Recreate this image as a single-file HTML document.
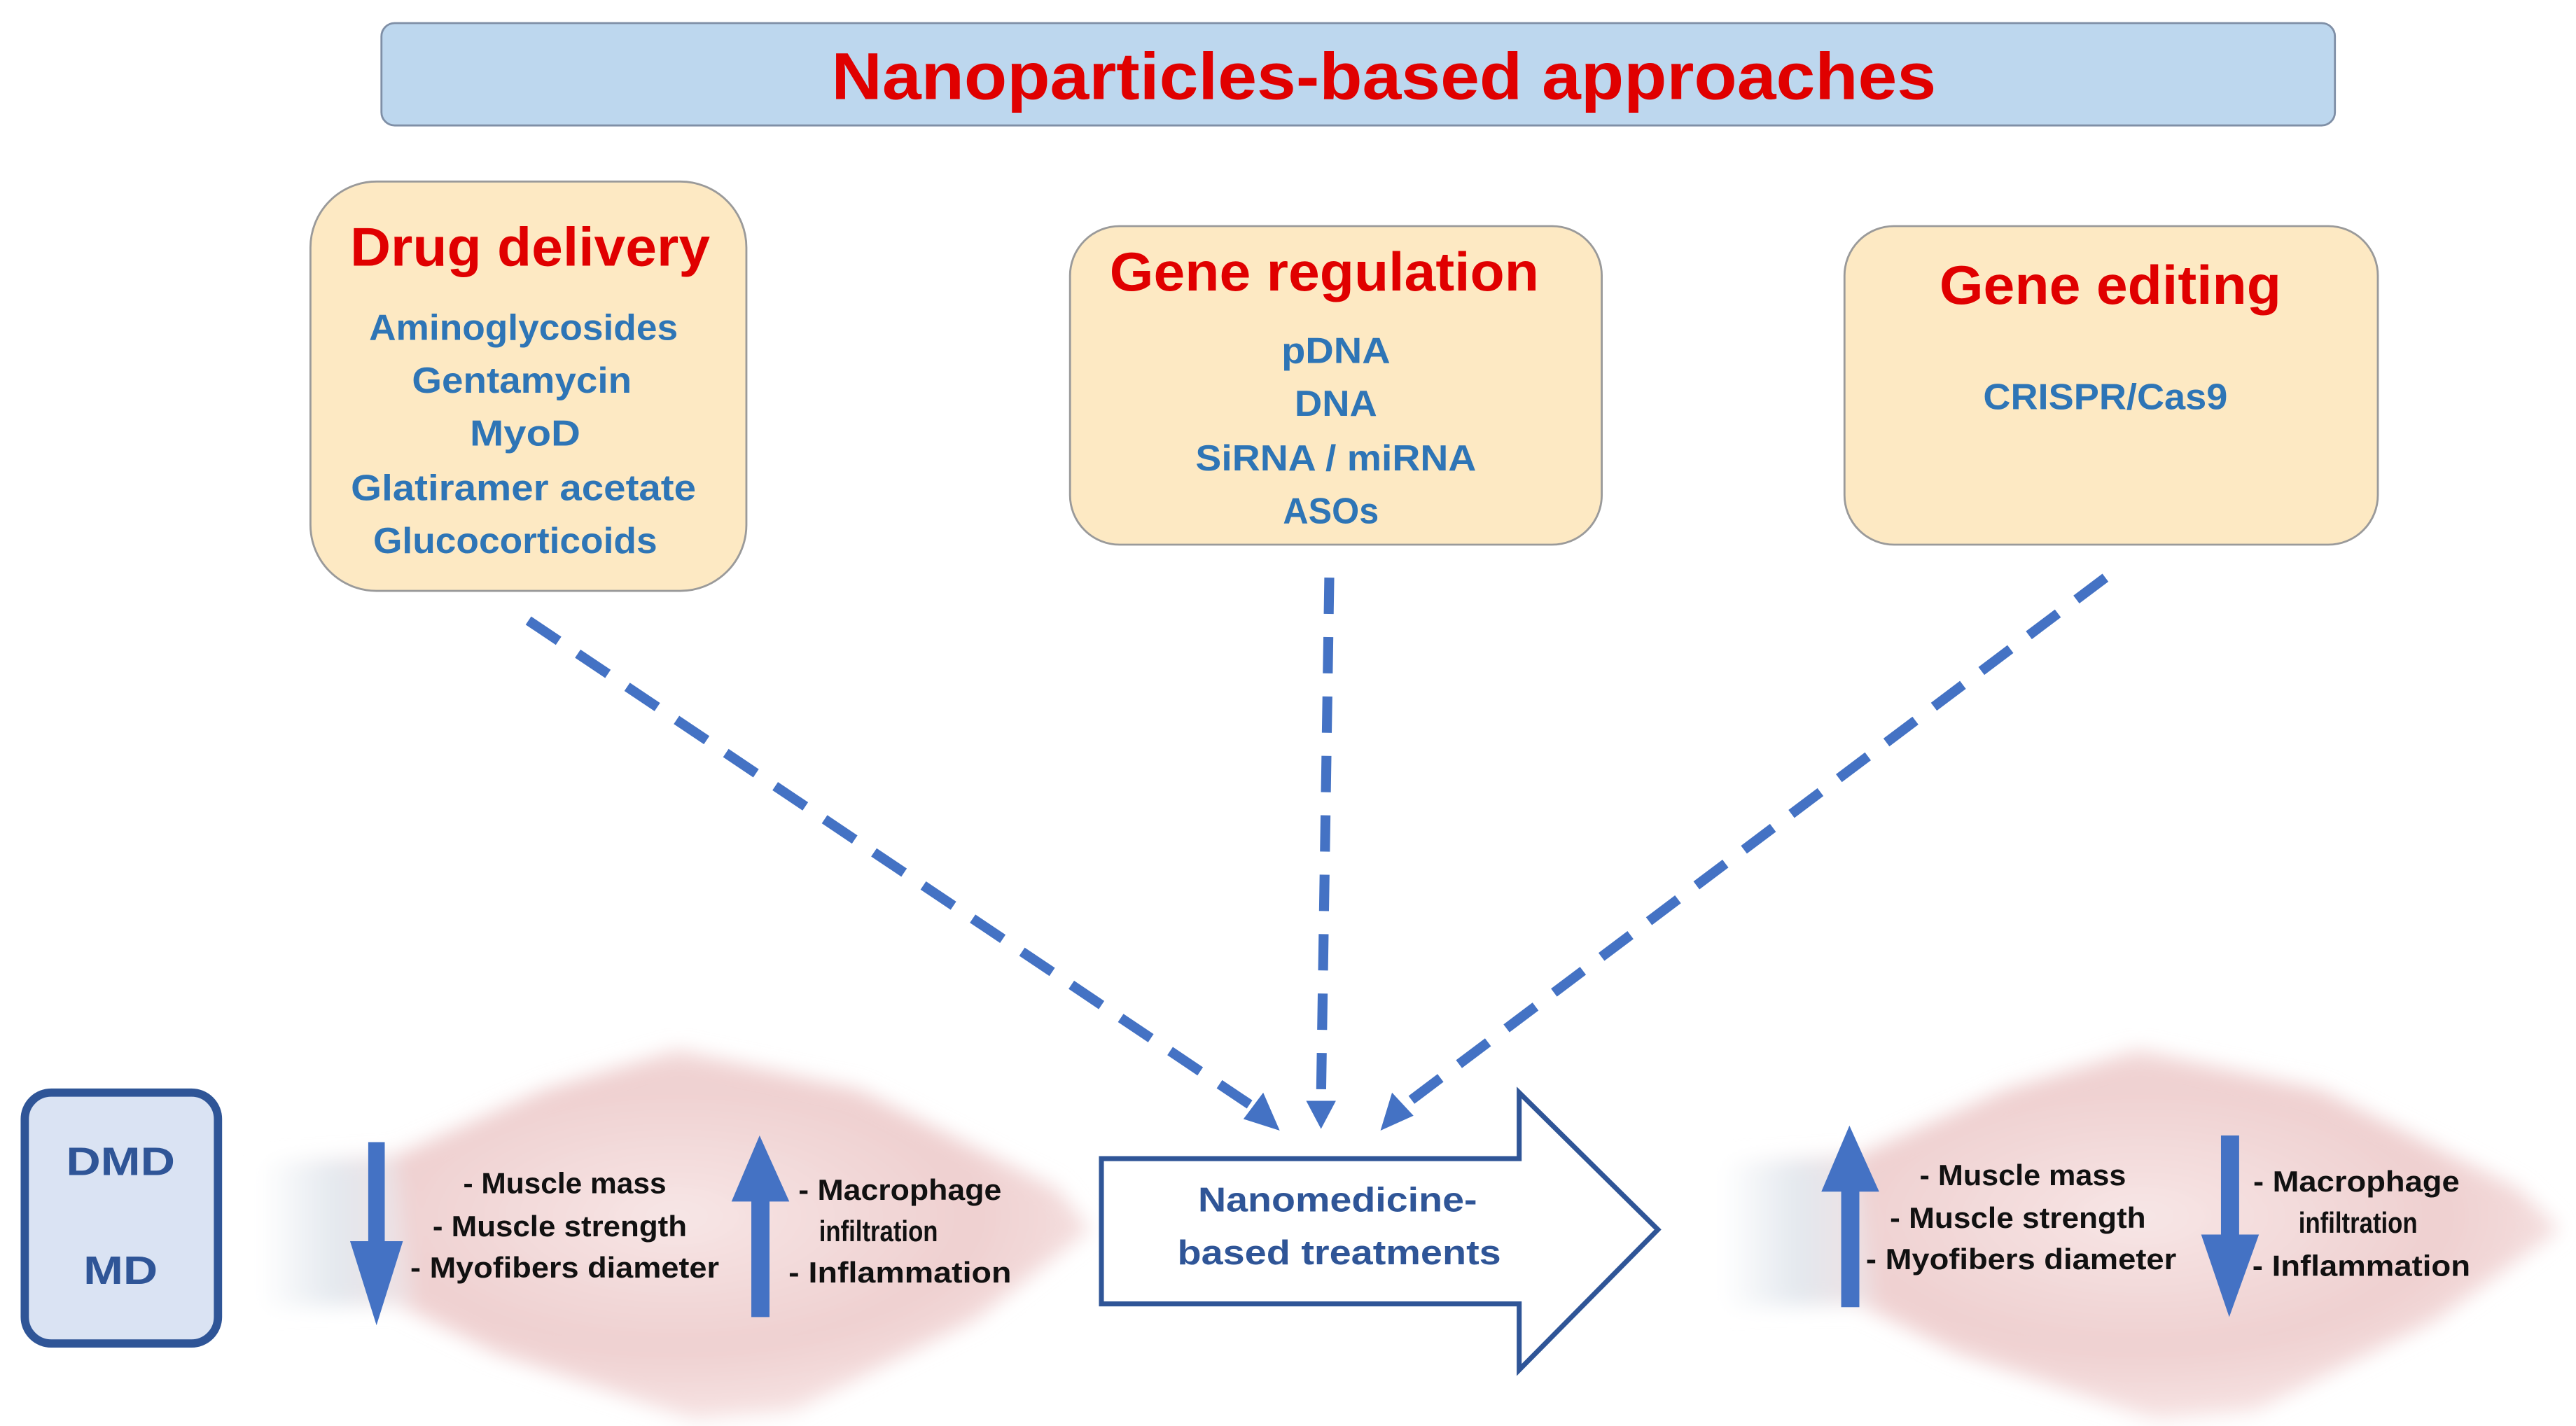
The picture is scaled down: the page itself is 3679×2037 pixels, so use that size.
<!DOCTYPE html>
<html><head><meta charset="utf-8"><style>
html,body{margin:0;padding:0;background:#fff;}
svg{display:block;}
text{font-family:"Liberation Sans",sans-serif;font-weight:bold;}
</style></head><body>
<svg width="3679" height="2037" viewBox="0 0 1560 864" preserveAspectRatio="none" xmlns="http://www.w3.org/2000/svg">
<defs>
<filter id="bl" x="-20%" y="-20%" width="140%" height="140%"><feGaussianBlur stdDeviation="6"/></filter>
<radialGradient id="mg" cx="0.5" cy="0.45" r="0.6">
<stop offset="0" stop-color="#f7e6e6"/><stop offset="0.6" stop-color="#efd0d0"/><stop offset="1" stop-color="#f8e8e8"/>
</radialGradient>
<linearGradient id="tg" x1="0" x2="1"><stop offset="0" stop-color="#ffffff"/><stop offset="0.5" stop-color="#e3e8ee"/><stop offset="1" stop-color="#efdfe1"/></linearGradient>
</defs>
<rect width="1560" height="864" fill="#fff"/>
<rect x="231" y="14" width="1183" height="62" rx="8" fill="#bdd7ee" stroke="#7f8fa6" stroke-width="1.2"/>
<text x="838" y="60" font-size="40" fill="#e00000" text-anchor="middle" textLength="669" lengthAdjust="spacingAndGlyphs">Nanoparticles-based approaches</text>
<rect x="188" y="110" width="264" height="248" rx="40" fill="#fde9c3" stroke="#9a9a9a" stroke-width="1.2"/>
<text x="321" y="161" font-size="33" fill="#e00000" text-anchor="middle" textLength="218" lengthAdjust="spacingAndGlyphs">Drug delivery</text>
<g font-size="22" fill="#2e75b6" text-anchor="middle">
<text x="317" y="206" textLength="187" lengthAdjust="spacingAndGlyphs">Aminoglycosides</text>
<text x="316" y="238" textLength="133" lengthAdjust="spacingAndGlyphs">Gentamycin</text>
<text x="318" y="270" textLength="67" lengthAdjust="spacingAndGlyphs">MyoD</text>
<text x="317" y="303" textLength="209" lengthAdjust="spacingAndGlyphs">Glatiramer acetate</text>
<text x="312" y="335" textLength="172" lengthAdjust="spacingAndGlyphs">Glucocorticoids</text>
</g>
<rect x="648" y="137" width="322" height="193" rx="30" fill="#fde9c3" stroke="#9a9a9a" stroke-width="1.2"/>
<text x="802" y="176" font-size="33" fill="#e00000" text-anchor="middle" textLength="260" lengthAdjust="spacingAndGlyphs">Gene regulation</text>
<g font-size="22" fill="#2e75b6" text-anchor="middle">
<text x="809" y="220" textLength="66" lengthAdjust="spacingAndGlyphs">pDNA</text>
<text x="809" y="252" textLength="50" lengthAdjust="spacingAndGlyphs">DNA</text>
<text x="809" y="285" textLength="170" lengthAdjust="spacingAndGlyphs">SiRNA / miRNA</text>
<text x="806" y="317" textLength="58" lengthAdjust="spacingAndGlyphs">ASOs</text>
</g>
<rect x="1117" y="137" width="323" height="193" rx="30" fill="#fde9c3" stroke="#9a9a9a" stroke-width="1.2"/>
<text x="1278" y="184" font-size="33" fill="#e00000" text-anchor="middle" textLength="207" lengthAdjust="spacingAndGlyphs">Gene editing</text>
<text x="1275" y="248" font-size="22" fill="#2e75b6" text-anchor="middle" textLength="148" lengthAdjust="spacingAndGlyphs">CRISPR/Cas9</text>
<g stroke="#4472c4" stroke-width="6" stroke-dasharray="22,14" fill="none">
<line x1="320" y1="376" x2="758" y2="670"/>
<line x1="805" y1="350" x2="800" y2="666"/>
<line x1="1275" y1="350" x2="850" y2="670"/>
</g>
<g fill="#4472c4">
<polygon points="775,685 753,678 765,662"/>
<polygon points="800,684 791,667 809,667"/>
<polygon points="836,685 843,662 856,676"/>
</g>
<g filter="url(#bl)">
<path d="M160,705 L240,700 L330,660 L410,636 L520,660 L640,720 L660,745 L590,800 L480,855 L420,860 L300,820 L240,790 L160,790 Z" fill="url(#mg)"/>
<path d="M158,705 L240,702 L250,790 L158,792 Z" fill="url(#tg)"/>
<path d="M1045,705 L1125,700 L1215,660 L1295,636 L1405,660 L1525,720 L1550,745 L1475,800 L1365,855 L1305,860 L1185,820 L1125,790 L1045,790 Z" fill="url(#mg)"/>
<path d="M1043,705 L1125,702 L1135,790 L1043,792 Z" fill="url(#tg)"/>
</g>
<rect x="15" y="662" width="117" height="152" rx="16" fill="#dae3f3" stroke="#2f5597" stroke-width="5"/>
<text x="73" y="712" font-size="24" fill="#2f5597" text-anchor="middle" textLength="66" lengthAdjust="spacingAndGlyphs">DMD</text>
<text x="73" y="778" font-size="24" fill="#2f5597" text-anchor="middle" textLength="45" lengthAdjust="spacingAndGlyphs">MD</text>
<g fill="#4472c4">
<polygon points="223,692 233,692 233,752 244,752 228,803 212,752 223,752"/>
<polygon points="455,798 466,798 466,728 478,728 460,688 443,728 455,728"/>
<polygon points="1115,792 1126,792 1126,722 1138,722 1120,682 1103,722 1115,722"/>
<polygon points="1345,688 1356,688 1356,748 1368,748 1350,798 1333,748 1345,748"/>
</g>
<g font-size="17.5" fill="#111" text-anchor="middle">
<text x="342" y="723" textLength="123" lengthAdjust="spacingAndGlyphs">- Muscle mass</text>
<text x="339" y="749" textLength="154" lengthAdjust="spacingAndGlyphs">- Muscle strength</text>
<text x="342" y="774" textLength="187" lengthAdjust="spacingAndGlyphs">- Myofibers diameter</text>
<text x="545" y="727" textLength="123" lengthAdjust="spacingAndGlyphs">- Macrophage</text>
<text x="532" y="752" textLength="72" lengthAdjust="spacingAndGlyphs">infiltration</text>
<text x="545" y="777" textLength="135" lengthAdjust="spacingAndGlyphs">- Inflammation</text>
<text x="1225" y="718" textLength="125" lengthAdjust="spacingAndGlyphs">- Muscle mass</text>
<text x="1222" y="744" textLength="155" lengthAdjust="spacingAndGlyphs">- Muscle strength</text>
<text x="1224" y="769" textLength="188" lengthAdjust="spacingAndGlyphs">- Myofibers diameter</text>
<text x="1427" y="722" textLength="125" lengthAdjust="spacingAndGlyphs">- Macrophage</text>
<text x="1428" y="747" textLength="72" lengthAdjust="spacingAndGlyphs">infiltration</text>
<text x="1430" y="773" textLength="132" lengthAdjust="spacingAndGlyphs">- Inflammation</text>
</g>
<polygon points="667,702 920,702 920,662 1004,745 920,830 920,790 667,790" fill="#fff" stroke="#2f5597" stroke-width="3"/>
<text x="810" y="734" font-size="21" fill="#2f5597" text-anchor="middle" textLength="169" lengthAdjust="spacingAndGlyphs">Nanomedicine-</text>
<text x="811" y="766" font-size="21" fill="#2f5597" text-anchor="middle" textLength="196" lengthAdjust="spacingAndGlyphs">based treatments</text>
</svg>
</body></html>
